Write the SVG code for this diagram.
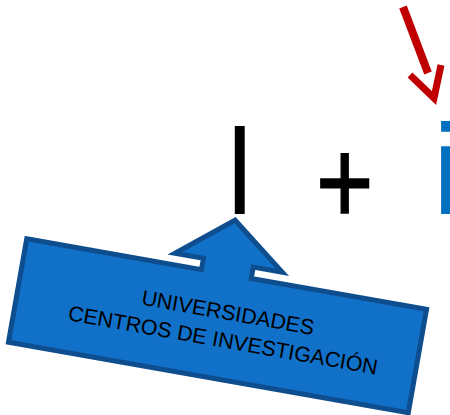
<svg xmlns="http://www.w3.org/2000/svg" width="450" height="415" viewBox="0 0 450 415">
<style>
.big{font-family:"Liberation Sans",Arial,sans-serif;font-size:128px}
.lbl{font-family:"Liberation Sans",Arial,sans-serif;font-size:21.4px;fill:#000;text-anchor:middle}
</style>
<rect width="450" height="415" fill="#fff"/>
<g id="letter-I"><text class="big" fill="#000" transform="translate(225,214) scale(0.83,1)">I</text></g>
<g id="plus"><text class="big" fill="#000" stroke="#000" stroke-width="1.6" style="font-size:120px" transform="translate(316,223.5) scale(0.82,1)">+</text></g>
<g id="letter-i"><text class="big" fill="#0070C0" transform="translate(434,214) scale(0.83,1)">i</text></g>
<g id="connectors">
<g id="red-arrow" fill="none" stroke="#C00000" stroke-width="8">
<line x1="403" y1="7" x2="428" y2="73"/>
<polyline points="410,75 434,98 441,65" stroke-width="7"/>
</g>
</g>
<g id="callout" transform="translate(217.5,325.75) rotate(10)">
<path d="M-203,-52.5 L-25.5,-52.5 L-25.5,-64 L-54.5,-64 L-1,-107 L54.5,-64 L25,-64 L25,-52.5 L203,-52.5 L203,52.5 L-203,52.5 Z" fill="#1170C8" stroke="#0E4E8E" stroke-width="5" stroke-linejoin="miter"/>
<text class="lbl" x="8" y="-7.5">UNIVERSIDADES</text>
<text class="lbl" x="8" y="20.5">CENTROS DE INVESTIGACIÓN</text>
</g>
</svg>
